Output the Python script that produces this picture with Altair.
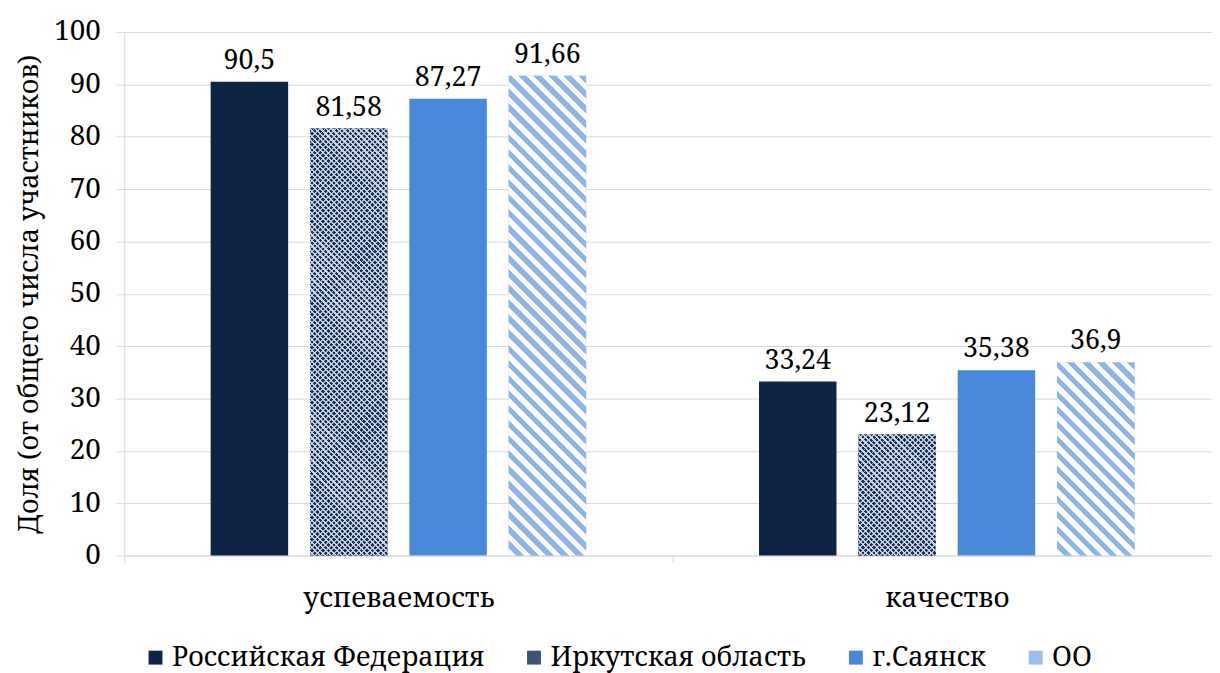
import altair as alt
import pandas as pd

categories = ["успеваемость", "качество"]
series = ["Российская Федерация", "Иркутская область", "г.Саянск", "ОО"]
rf_values = [90.5, 33.24]
irk_values = [81.58, 23.12]
sayansk_values = [87.27, 35.38]
oo_values = [91.66, 36.9]
colors = ["#0e2446", "#3f5278", "#4a89da", "#9dbfee"]

FONT = "Noto Serif"
FS = 28
PLOT_W, PLOT_H = 1095, 527
BAND = 552
INNER_PAD, OUTER_PAD = 0.22, 0.87
STEP = BAND / (4 - INNER_PAD + 2 * OUTER_PAD)
BAR_W = STEP * (1 - INNER_PAD)

rows = []
for s, vals in zip(series, [rf_values, irk_values, sayansk_values, oo_values]):
    for c, v in zip(categories, vals):
        rows.append({"cat": c, "ser": s, "val": v,
                     "lbl": (f"{v:g}").replace(".", ",")})
df = pd.DataFrame(rows)


def stripes(W, H, period, ca, cb, frac_b, direction):
    n = max(1, round((W + H) / period))
    r = H / W
    k = (1 + r) / (1 + r * r)
    if direction == "back":
        x1, y1, x2, y2 = 0, 1, k, 1 - k * r
    else:
        x1, y1, x2, y2 = 0, 0, k, k * r
    stops = []
    for i in range(n):
        o0 = i / n
        o1 = (i + 1 - frac_b) / n
        o2 = (i + 1) / n
        stops += [{"offset": round(o0, 6), "color": ca},
                  {"offset": round(o1, 6), "color": ca},
                  {"offset": round(o1, 6), "color": cb},
                  {"offset": round(o2, 6), "color": cb}]
    return {"gradient": "linear", "x1": x1, "y1": y1, "x2": x2, "y2": y2,
            "stops": stops}


x_enc = alt.X("cat:N", sort=categories,
              scale=alt.Scale(domain=categories, range=[0, 2 * BAND],
                              paddingInner=0, paddingOuter=0),
              axis=alt.Axis(title=None, labelAngle=0, labelFont=FONT,
                            labelFontSize=FS, labelColor="black",
                            labelLimit=0,
                            labelPadding=22, domainColor="#d9d9d9",
                            tickColor="#d9d9d9", tickSize=7, tickBand="extent",
                            grid=False))
xo_enc = alt.XOffset("ser:N", sort=series,
                     scale=alt.Scale(domain=series, paddingInner=INNER_PAD,
                                     paddingOuter=OUTER_PAD))
y_enc = alt.Y("val:Q",
              scale=alt.Scale(domain=[0, 100], nice=False),
              axis=alt.Axis(title="Доля (от общего числа участников)",
                            values=list(range(0, 101, 10)),
                            titleFont=FONT, titleFontSize=27,
                            titleFontWeight="normal", titleColor="black",
                            titlePadding=10,
                            labelFont=FONT, labelFontSize=FS,
                            labelColor="black", labelPadding=16,
                            domainColor="#d9d9d9", tickColor="#d9d9d9",
                            tickSize=8, gridColor="#d9d9d9"))

base = alt.Chart(df)

bars = base.mark_bar(strokeWidth=0).encode(
    x=x_enc, xOffset=xo_enc, y=y_enc,
    color=alt.Color("ser:N", sort=series,
                    scale=alt.Scale(domain=series, range=colors),
                    legend=alt.Legend(title=None, orient="none",
                                      direction="horizontal",
                                      legendX=18, legendY=616,
                                      symbolType="square", symbolSize=196,
                                      symbolStrokeWidth=0,
                                      labelFont=FONT, labelFontSize=27,
                                      labelColor="black", labelOffset=3,
                                      labelLimit=0,
                                      columnPadding=36)),
)

layers = [bars]
for c, v in zip(categories, oo_values):
    H = v / 100 * PLOT_H
    g = stripes(BAR_W, H, 15, "#ffffff", "#8fb4ea", 0.5, "back")
    layers.append(base.transform_filter(
        (alt.datum.cat == c) & (alt.datum.ser == "ОО")
    ).mark_bar(fill=g, strokeWidth=0).encode(x=x_enc, xOffset=xo_enc, y=y_enc))

for c, v in zip(categories, irk_values):
    H = v / 100 * PLOT_H
    g1 = stripes(BAR_W, H, 5.5, "#1a3058", "#c4d0e4", 0.4, "back")
    g2 = stripes(BAR_W, H, 5.5, "rgba(255,255,255,0)", "rgba(210,220,236,0.8)", 0.35, "fwd")
    flt = (alt.datum.cat == c) & (alt.datum.ser == "Иркутская область")
    layers.append(base.transform_filter(flt).mark_bar(fill=g1, strokeWidth=0)
                  .encode(x=x_enc, xOffset=xo_enc, y=y_enc))
    layers.append(base.transform_filter(flt).mark_bar(fill=g2, strokeWidth=0)
                  .encode(x=x_enc, xOffset=xo_enc, y=y_enc))

labels = base.mark_text(font=FONT, fontSize=27, color="black",
                        baseline="alphabetic", dy=-13).encode(
    x=x_enc, xOffset=xo_enc, y=y_enc, text="lbl:N")
layers.append(labels)

chart = alt.layer(*layers).properties(
    width=PLOT_W, height=PLOT_H,
    autosize=alt.AutoSizeParams(type="none"),
    padding={"left": 117, "top": 22, "right": 0, "bottom": 116},
    background="white",
).configure_view(stroke=None)

chart.save("out.html", embed_options={"renderer": "svg", "actions": False})
